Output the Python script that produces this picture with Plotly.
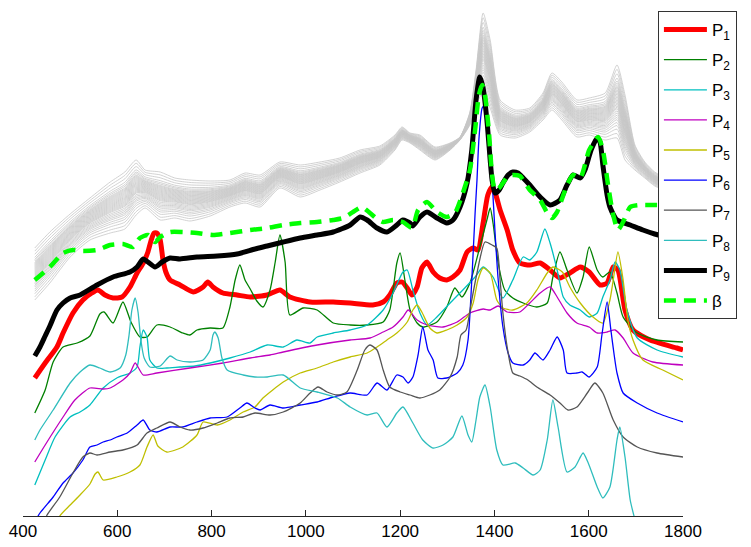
import plotly.graph_objects as go

# ---------------- data (wavenumber in cm^-1, intensity in arbitrary units) ----------------
p1_x = [425,447,472,485,506,527,546,559,574,591,610,627,642,655,665,672,678,684,691,697,703,712,733,761,782,792,803,824,854,882,918,945,966,1009,1058,1094,1142,1164,1178,1193,1204,1215,1225,1236,1246,1257,1270,1284,1299,1312,1327,1342,1355,1365,1376,1386,1395,1403,1412,1427,1439,1454,1475,1497,1518,1539,1560,1582,1601,1624,1639,1652,1662,1677,1694,1730,1787,1800]
p1_y = [138,153,169,183,203,216,223,226,221,218,219,229,243,253,264,276,283,283,276,256,244,236,231,224,229,234,229,223,221,219,221,226,219,214,214,213,211,214,221,233,234,228,221,229,248,254,244,238,236,239,246,264,268,266,293,321,329,321,306,286,266,253,251,253,246,238,243,249,244,231,233,249,246,206,186,176,168,166]

p2_x = [425,447,464,485,515,542,563,572,591,612,629,648,663,684,712,739,754,769,797,824,839,850,860,871,882,896,909,924,935,945,956,966,994,1024,1058,1094,1130,1164,1178,1193,1200,1210,1221,1236,1248,1278,1299,1316,1331,1348,1369,1384,1391,1397,1408,1422,1439,1461,1490,1512,1524,1539,1554,1575,1588,1601,1618,1630,1645,1660,1673,1703,1745,1800]
p2_y = [103,126,154,169,173,180,202,204,193,214,194,179,179,191,189,183,181,186,188,188,209,236,251,236,227,215,209,226,254,281,254,201,208,206,193,191,191,194,206,253,263,236,206,193,189,194,209,228,219,233,269,296,308,293,253,226,218,213,209,213,239,264,246,223,239,269,246,239,244,223,199,183,176,174]

p3_x = [425,447,468,500,521,542,570,599,627,642,648,655,663,669,684,705,733,765,797,839,882,918,952,981,1009,1024,1058,1094,1130,1164,1185,1206,1215,1227,1242,1257,1278,1306,1333,1359,1376,1397,1418,1439,1461,1475,1490,1507,1518,1533,1546,1560,1582,1601,1618,1630,1645,1656,1666,1681,1703,1745,1800]
p3_y = [31,56,79,99,104,111,128,138,143,149,169,186,179,156,148,148,149,150,153,158,164,171,169,176,173,179,183,186,191,206,223,244,246,226,203,191,199,213,226,239,249,239,218,236,259,256,264,287,273,246,219,211,206,199,203,219,236,254,246,206,178,166,159]

p4_x = [425,447,485,510,542,570,585,612,627,638,655,684,754,824,882,924,952,1024,1094,1136,1164,1185,1206,1217,1236,1257,1291,1321,1348,1376,1391,1408,1427,1454,1475,1497,1518,1533,1554,1575,1601,1618,1639,1656,1673,1694,1736,1800]
p4_y = [54,71,99,116,128,127,128,136,143,153,141,143,148,153,158,161,164,171,176,178,184,189,199,206,196,191,189,194,203,207,206,210,204,204,213,223,229,219,203,193,189,183,184,186,178,163,154,151]

p5_x = [465,478,500,521,542,553,559,570,599,627,648,663,676,686,705,739,769,782,812,839,867,892,909,952,988,1024,1058,1094,1130,1151,1172,1193,1215,1227,1236,1246,1263,1278,1299,1321,1342,1355,1365,1376,1391,1405,1418,1439,1469,1490,1512,1524,1544,1560,1582,1609,1630,1645,1652,1662,1673,1683,1694,1715,1757,1800]
p5_y = [-15,0,11,21,32,42,44,36,39,44,51,69,81,70,64,69,81,94,91,96,104,109,118,134,143,148,154,159,163,169,176,183,194,206,211,204,188,183,186,191,199,213,236,248,243,216,208,206,213,226,243,249,244,229,213,199,193,216,236,264,236,196,176,156,146,136]

p6_x = [425,436,464,485,506,527,542,557,570,585,599,621,642,655,669,684,712,739,769,797,833,860,875,892,903,924,952,988,1024,1058,1094,1130,1151,1172,1193,1206,1217,1227,1238,1248,1259,1270,1280,1299,1321,1333,1344,1352,1359,1363,1367,1374,1380,1386,1391,1395,1401,1408,1418,1429,1439,1461,1475,1486,1503,1518,1533,1546,1554,1575,1586,1601,1618,1628,1639,1647,1654,1660,1673,1703,1745,1800]
p6_y = [-6,3,19,33,43,56,69,71,74,76,79,83,91,96,86,84,89,89,94,98,99,108,113,108,106,111,108,111,114,119,123,121,133,126,141,139,133,139,161,189,166,156,138,138,143,151,176,236,303,336,376,408,411,396,361,336,286,236,189,163,153,151,156,163,156,166,179,166,143,143,144,139,149,181,214,186,161,143,123,113,103,94]

p7_x = [447,451,478,506,527,542,557,585,612,642,663,684,712,733,754,782,812,839,867,892,924,952,988,1009,1026,1045,1067,1087,1109,1125,1136,1151,1164,1178,1200,1221,1242,1263,1284,1306,1321,1329,1340,1350,1363,1380,1395,1405,1412,1418,1427,1439,1454,1471,1490,1518,1539,1556,1575,1597,1613,1630,1652,1673,1703,1745,1800]
p7_y = [-4,1,19,43,59,63,61,64,66,71,83,88,94,89,86,88,93,98,99,103,101,104,113,123,129,124,121,124,146,166,171,166,146,129,124,121,118,121,126,139,159,181,186,211,243,274,271,268,236,203,169,143,140,136,129,121,113,106,109,123,133,123,96,79,69,63,59]

p8_x = [425,436,464,500,521,542,563,585,606,618,625,631,638,644,650,657,669,691,712,727,754,782,797,803,807,814,822,833,867,892,918,952,988,1024,1067,1094,1130,1151,1172,1193,1206,1227,1248,1270,1291,1312,1331,1344,1352,1361,1369,1380,1391,1405,1418,1444,1461,1482,1497,1512,1524,1535,1554,1571,1588,1599,1618,1630,1645,1660,1666,1677,1688,1696,1704]
p8_y = [76,86,106,133,144,151,148,144,148,161,181,206,218,204,176,158,149,150,160,156,154,156,166,181,184,178,158,146,141,139,139,141,128,124,118,109,101,103,89,103,109,93,76,68,71,79,100,81,74,96,119,131,109,66,51,53,48,41,46,76,116,89,44,49,63,53,29,18,29,76,89,59,16,0,-14]

p9_x = [425,436,447,457,472,485,500,521,557,591,627,642,655,665,680,695,712,733,769,812,854,892,918,952,988,1024,1058,1094,1115,1130,1151,1172,1193,1206,1221,1227,1242,1257,1278,1299,1312,1327,1342,1352,1361,1369,1376,1384,1391,1395,1401,1410,1418,1429,1439,1450,1461,1475,1497,1518,1539,1554,1567,1582,1592,1605,1618,1624,1630,1639,1645,1660,1688,1715,1740,1772,1800]
p9_y = [160,169,180,190,206,213,218,221,231,239,244,249,257,254,249,254,258,257,259,260,262,267,270,274,278,281,284,291,299,296,288,284,291,296,293,290,299,304,298,293,296,309,333,366,416,439,428,396,356,336,323,326,333,341,344,343,338,331,319,311,316,331,341,338,346,366,378,374,351,321,309,296,291,286,282,278,275]

beta_x = [425,457,485,506,527,557,585,612,633,648,665,680,691,712,739,769,803,839,882,918,952,988,1024,1058,1079,1100,1119,1136,1151,1164,1185,1206,1221,1227,1238,1257,1278,1299,1316,1333,1348,1359,1367,1374,1380,1388,1395,1401,1410,1418,1429,1439,1454,1475,1497,1512,1522,1533,1544,1554,1567,1582,1601,1620,1630,1641,1652,1662,1673,1688,1709,1740,1800]
beta_y = [236,249,263,266,265,266,271,272,269,278,281,274,279,284,284,283,281,283,286,288,291,293,294,296,298,304,309,303,297,294,296,294,289,289,306,314,304,299,303,323,346,386,421,431,421,386,341,326,328,333,340,341,340,326,316,303,298,304,318,331,341,338,366,379,366,331,301,286,294,309,311,311,311]

# measured spectra (grey band): upper and lower envelopes and the relative position of each spectrum
gray_x = [425,457,500,542,585,616,640,659,691,722,754,797,839,871,903,945,988,1030,1072,1115,1157,1189,1204,1221,1242,1274,1306,1327,1348,1361,1376,1391,1412,1444,1475,1503,1522,1543,1575,1601,1635,1660,1677,1698,1719,1740,1772,1800]
gray_upper = [268,284,302,318,334,344,356,346,344,338,336,335,336,343,341,354,351,354,358,366,370,381,389,383,381,369,373,379,404,446,503,476,416,406,408,423,443,434,416,418,423,451,421,371,354,344,336,331]
gray_lower = [216,233,259,276,283,287,301,308,296,298,295,300,309,313,309,328,319,326,334,343,351,366,376,373,366,356,366,376,391,411,424,408,381,378,384,396,406,396,379,381,376,378,356,346,338,330,324,321]
gray_weights = [0.0,0.06,0.12,0.17,0.21,0.25,0.28,0.31,0.34,0.37,0.40,0.42,0.44,0.46,0.48,0.50,0.52,0.54,0.56,0.58,0.60,0.62,0.64,0.66,0.68,0.70,0.72,0.75,0.78,0.82,0.88,0.94,1.0]

series = [
    ("P<sub>1</sub>", p1_x, p1_y, "#FF0000", 5, "solid"),
    ("P<sub>2</sub>", p2_x, p2_y, "#008000", 1.3, "solid"),
    ("P<sub>3</sub>", p3_x, p3_y, "#00BFBF", 1.3, "solid"),
    ("P<sub>4</sub>", p4_x, p4_y, "#BF00BF", 1.3, "solid"),
    ("P<sub>5</sub>", p5_x, p5_y, "#BFBF00", 1.3, "solid"),
    ("P<sub>6</sub>", p6_x, p6_y, "#0000FF", 1.3, "solid"),
    ("P<sub>7</sub>", p7_x, p7_y, "#555555", 1.3, "solid"),
    ("P<sub>8</sub>", p8_x, p8_y, "#2FBDBD", 1.3, "solid"),
    ("P<sub>9</sub>", p9_x, p9_y, "#000000", 5, "solid"),
    ("β", beta_x, beta_y, "#00FF00", 4.5, "12px,8px"),
]

fig = go.Figure()

for w in gray_weights:
    gy = [lo + w * (up - lo) for lo, up in zip(gray_lower, gray_upper)]
    fig.add_trace(go.Scatter(
        x=gray_x, y=gy, mode="lines", showlegend=False, hoverinfo="skip",
        line=dict(color="#C6C6C6", width=0.8, shape="spline", smoothing=0.6),
    ))

for name, xs, ys, color, width, dash in series:
    fig.add_trace(go.Scatter(
        x=xs, y=ys, mode="lines", name=name, legendgroup=name,
        line=dict(color=color, width=width, dash=dash, shape="spline", smoothing=0.6),
    ))

# the page body adds an 8px offset, so the figure is sized to fit inside it
fig.update_layout(
    width=743, height=539,
    margin=dict(l=15, r=68, t=0, b=31),
    paper_bgcolor="white", plot_bgcolor="white",
    font=dict(family="Liberation Sans, Arial, sans-serif", color="black"),
    showlegend=True,
    legend=dict(
        x=0.962, y=0.994, xanchor="left", yanchor="top",
        bgcolor="white", bordercolor="#333333", borderwidth=1,
        font=dict(size=17, color="black"),
        tracegroupgap=5, itemwidth=43,
    ),
    xaxis=dict(
        range=[400, 1800], tickmode="array",
        tickvals=[400, 600, 800, 1000, 1200, 1400, 1600, 1800],
        ticks="inside", ticklen=6, tickcolor="#262626",
        showline=True, linecolor="#262626", linewidth=1, mirror=False,
        showgrid=False, zeroline=False,
        tickfont=dict(size=17, color="black"),
    ),
    yaxis=dict(range=[0, 508], visible=False, showgrid=False, zeroline=False),
)

fig.write_html("out.html")
